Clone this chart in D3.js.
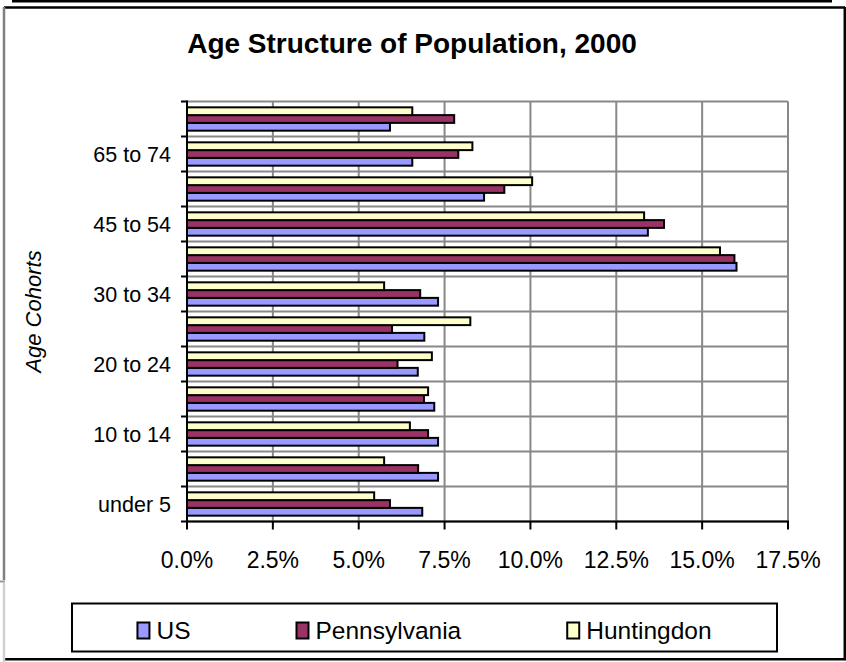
<!DOCTYPE html>
<html>
<head>
<meta charset="utf-8">
<script src="https://cdn.jsdelivr.net/npm/d3@7"></script>
<style>
  html, body { margin: 0; padding: 0; background: #fff; }
  svg { display: block; }
  text { font-family: "Liberation Sans", Arial, sans-serif; fill: #000; }
</style>
</head>
<body>
<svg id="chart" width="846" height="662"></svg>
<script>
// ---- data ----
const categories = ["under 5", "5 to 9", "10 to 14", "15 to 19", "20 to 24", "25 to 29",
                    "30 to 34", "35 to 44", "45 to 54", "55 to 64", "65 to 74", "75 +"];
const shownLabels = ["under 5", "10 to 14", "20 to 24", "30 to 34", "45 to 54", "65 to 74"];
const seriesNames = ["US", "Pennsylvania", "Huntingdon"];
const usValues = [6.85, 7.31, 7.31, 7.20, 6.72, 6.91, 7.31, 16.00, 13.42, 8.65, 6.56, 5.91];
const paValues = [5.91, 6.73, 7.02, 6.90, 6.13, 5.97, 6.79, 15.94, 13.89, 9.24, 7.90, 7.78];
const huValues = [5.45, 5.74, 6.49, 7.02, 7.13, 8.25, 5.74, 15.52, 13.31, 10.05, 8.31, 6.56];
const xTicks = [0, 2.5, 5, 7.5, 10, 12.5, 15, 17.5];
const seriesColors = ["#9999FF", "#993366", "#FFFFCC"];

const seriesValues = [usValues, paValues, huValues];
const svg = d3.select("#chart");

// ---- frame ----
svg.append("rect").attr("x", 12).attr("y", 0).attr("width", 820).attr("height", 2.5).attr("fill", "#000");
svg.append("line").attr("x1", 4).attr("x2", 845).attr("y1", 7.5).attr("y2", 7.5).attr("stroke", "#000").attr("stroke-width", 2.5);
svg.append("line").attr("x1", 844.8).attr("x2", 844.8).attr("y1", 7).attr("y2", 660).attr("stroke", "#000").attr("stroke-width", 2.5);
svg.append("line").attr("x1", 5).attr("x2", 846).attr("y1", 659.2).attr("y2", 659.2).attr("stroke", "#000").attr("stroke-width", 2.5);
svg.append("line").attr("x1", 4).attr("x2", 4).attr("y1", 7).attr("y2", 580).attr("stroke", "#808080").attr("stroke-width", 2.5);
svg.append("line").attr("x1", 0).attr("x2", 5).attr("y1", 581.5).attr("y2", 581.5).attr("stroke", "#999").attr("stroke-width", 2);
svg.append("line").attr("x1", 4).attr("x2", 4).attr("y1", 583).attr("y2", 662).attr("stroke", "#d0d0d0").attr("stroke-width", 2.5);

// ---- title ----
svg.append("text").attr("x", 412).attr("y", 53).attr("text-anchor", "middle")
  .style("font-size", "28px").style("font-weight", "bold")
  .text("Age Structure of Population, 2000");

// ---- scales ----
const x0 = 187, x1 = 788, yTop = 101.5, yBot = 521.5;
const x = d3.scaleLinear().domain([0, 17.5]).range([x0, x1]);
const y = d3.scaleBand().domain(categories).range([yBot, yTop]).padding(0);
const ySub = d3.scaleBand().domain(["Huntingdon", "Pennsylvania", "US"])
  .range([0, y.bandwidth()]).paddingInner(0).paddingOuter(0.75);

// ---- gridlines ----
const grid = svg.append("g");
grid.selectAll("line.v").data(xTicks.slice(1)).enter().append("line")
  .attr("x1", d => x(d)).attr("x2", d => x(d)).attr("y1", yTop).attr("y2", yBot)
  .attr("stroke", "#888").attr("stroke-width", 2);
const boundaries = categories.map(c => y(c)).concat([yBot]);
grid.selectAll("line.h").data(boundaries).enter().append("line")
  .attr("x1", x0).attr("x2", x1).attr("y1", d => d).attr("y2", d => d)
  .attr("stroke", "#888").attr("stroke-width", 2);

// ---- bars ----
seriesNames.forEach((name, si) => {
  svg.append("g").selectAll("rect").data(categories).enter().append("rect")
    .attr("x", x(0))
    .attr("y", c => y(c) + ySub(name))
    .attr("width", (c, i) => x(seriesValues[si][i]) - x(0))
    .attr("height", ySub.bandwidth())
    .attr("fill", seriesColors[si])
    .attr("stroke", "#000").attr("stroke-width", 2);
});

// ---- axes ----
const yAxisG = svg.append("g");
yAxisG.append("line").attr("x1", x0).attr("x2", x0).attr("y1", yTop - 1).attr("y2", yBot + 1)
  .attr("stroke", "#000").attr("stroke-width", 2);
yAxisG.selectAll("line.t").data(boundaries).enter().append("line")
  .attr("x1", x0 - 6).attr("x2", x0).attr("y1", d => d).attr("y2", d => d)
  .attr("stroke", "#000").attr("stroke-width", 2);
yAxisG.selectAll("text").data(shownLabels).enter().append("text")
  .attr("x", 171).attr("y", d => y(d) + y.bandwidth() / 2 + 7.5)
  .attr("text-anchor", "end").style("font-size", "21.5px").text(d => d);

const xAxisG = svg.append("g");
xAxisG.append("line").attr("x1", x0 - 1).attr("x2", x1 + 1).attr("y1", yBot).attr("y2", yBot)
  .attr("stroke", "#000").attr("stroke-width", 2);
xAxisG.selectAll("line.t").data(xTicks).enter().append("line")
  .attr("x1", d => x(d)).attr("x2", d => x(d)).attr("y1", yBot).attr("y2", yBot + 8)
  .attr("stroke", "#000").attr("stroke-width", 2);
xAxisG.selectAll("text").data(xTicks).enter().append("text")
  .attr("x", d => x(d)).attr("y", 568).attr("text-anchor", "middle")
  .style("font-size", "23px").text(d => d3.format(".1f")(d) + "%");

// ---- axis title ----
svg.append("text").attr("transform", `translate(41, ${(yTop + yBot) / 2}) rotate(-90)`)
  .attr("text-anchor", "middle").style("font-size", "22px").style("font-style", "italic")
  .text("Age Cohorts");

// ---- legend ----
const lg = svg.append("g");
const lx0 = 72, lx1 = 777, ly0 = 603.5, ly1 = 651.5;
lg.append("rect").attr("x", lx0).attr("y", ly0).attr("width", lx1 - lx0).attr("height", ly1 - ly0)
  .attr("fill", "#fff").attr("stroke", "#000").attr("stroke-width", 2);
const swW = 12, swH = 16, swGap = 7, itemGap = 106;
const items = seriesNames.map((name, i) => {
  const g = lg.append("g");
  g.append("rect").attr("x", 0).attr("y", -swH / 2).attr("width", swW).attr("height", swH)
    .attr("fill", seriesColors[i]).attr("stroke", "#000").attr("stroke-width", 2);
  const t = g.append("text").attr("x", swW + swGap).attr("y", 8.5)
    .style("font-size", "24.5px").text(name);
  const w = swW + swGap + t.node().getComputedTextLength();
  return { g, w };
});
const total = d3.sum(items, d => d.w) + itemGap * (items.length - 1);
let cx = (lx0 + lx1) / 2 - total / 2;
const cy = (ly0 + ly1) / 2 + 3;
items.forEach(it => { it.g.attr("transform", `translate(${cx}, ${cy})`); cx += it.w + itemGap; });
</script>
</body>
</html>
